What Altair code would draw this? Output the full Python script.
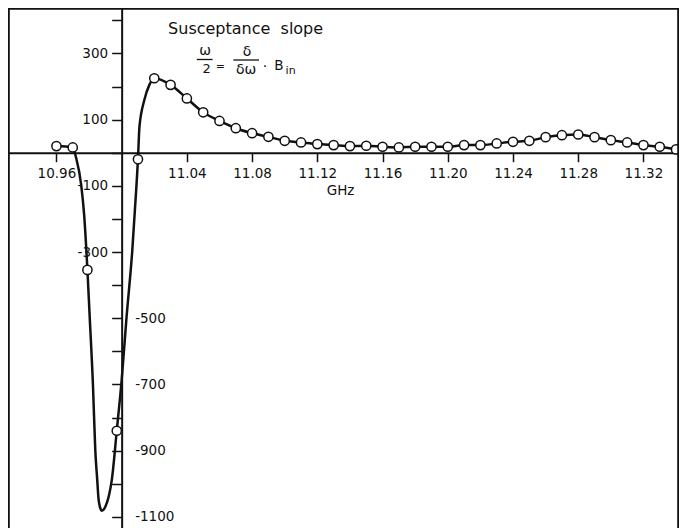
import altair as alt
import pandas as pd

# measured points (GHz, susceptance slope)
ghz = [10.96, 10.97, 10.979, 10.997, 11.01, 11.02, 11.03, 11.04, 11.05, 11.06,
       11.07, 11.08, 11.09, 11.10, 11.11, 11.12, 11.13, 11.14, 11.15, 11.16,
       11.17, 11.18, 11.19, 11.20, 11.21, 11.22, 11.23, 11.24, 11.25, 11.26,
       11.27, 11.28, 11.29, 11.30, 11.31, 11.32, 11.33, 11.34]
slope = [20, 16, -354, -840, -20, 225, 205, 164, 122, 96,
         74, 59, 48, 36, 31, 26, 23, 20, 21, 18,
         16, 18, 18, 18, 23, 23, 28, 33, 36, 47,
         53, 55, 47, 38, 31, 23, 18, 10]

# hand-drawn curve through the resonance dip
trace_ghz = [10.9721, 10.9752, 10.9770, 10.9804, 10.9824, 10.98382, 10.98503,
             10.98576, 10.98667, 10.98788, 10.98939, 10.99091, 10.99242, 10.99394,
             11.0000, 11.0030, 11.0065, 11.0091, 11.0109, 11.0139, 11.0170]
trace_val = [-16, -98, -188, -496, -702, -898, -989,
             -1043, -1070, -1082, -1075, -1058, -1031, -989,
             -687, -497, -297, -98, 77, 159, 205]

x_ticks = [10.96, 11.04, 11.08, 11.12, 11.16, 11.20, 11.24, 11.28, 11.32]
y_ticks = list(range(-1100, 401, 100))
y_left_labels = [300, 100, -100, -300]
y_right_labels = [-500, -700, -900, -1100]

x_domain = [10.9303, 11.3418]
y_domain = [-1133.8, 437.2]

W, H = 671, 520
FONT = "DejaVu Sans"
INK = "#111111"

def xpix(v):
    return (v - x_domain[0]) / (x_domain[1] - x_domain[0]) * W

def ypix(v):
    return (y_domain[1] - v) / (y_domain[1] - y_domain[0]) * H

def px2v(px):
    # reference page x -> view x (reference frame 5..684 mapped onto 0..W)
    return (px - 5) * W / 679.0

def py2v(py):
    return py - 8

pts = pd.DataFrame({"ghz": ghz, "val": slope})
curve = pd.concat([pts, pd.DataFrame({"ghz": trace_ghz, "val": trace_val})]).sort_values("ghz")

xs = alt.Scale(domain=x_domain, nice=False, zero=False)
ys = alt.Scale(domain=y_domain, nice=False, zero=False)

y_axis_x = xpix(11.0)
x_axis_y = ypix(0)

x_axis = alt.Axis(values=x_ticks, format=".2f", orient="bottom", offset=-(H - x_axis_y),
                  grid=False, tickSize=9, tickWidth=1.5, tickColor=INK,
                  domainColor=INK, domainWidth=2, labelPadding=5,
                  labelFont=FONT, labelFontSize=13.5, labelColor=INK,
                  title="GHz", titleFont=FONT, titleFontSize=13.5,
                  titleFontWeight="normal", titleColor=INK,
                  titleX=px2v(341), titleY=38, titleBaseline="middle", titleAlign="center",
                  labelOverlap=False)

left_expr = "indexof([" + ",".join(str(v) for v in y_left_labels) + "], datum.value) >= 0 ? '' + datum.value : ''"

line = alt.Chart(curve).mark_line(color=INK, strokeWidth=2.5, interpolate="monotone").encode(
    x=alt.X("ghz:Q", scale=xs, axis=x_axis),
    y=alt.Y("val:Q", scale=ys,
            axis=alt.Axis(values=y_ticks, orient="left", offset=-y_axis_x, grid=False,
                          tickSize=10, tickWidth=1.5, tickColor=INK,
                          domainColor=INK, domainWidth=2, labelPadding=4,
                          labelExpr=left_expr, labelFont=FONT, labelFontSize=13.5,
                          labelColor=INK, labelOverlap=False, title=None)),
)

points = alt.Chart(pts).mark_point(shape="circle", filled=True, fill="white", stroke=INK,
                                    strokeWidth=1.5, size=85, opacity=1).encode(
    x=alt.X("ghz:Q", scale=xs, axis=x_axis),
    y=alt.Y("val:Q", scale=ys,
            axis=alt.Axis(values=y_right_labels, orient="right", offset=-(W - y_axis_x),
                          domain=False, ticks=False, grid=False, labelPadding=13,
                          labelExpr="'' + datum.value", labelFont=FONT, labelFontSize=13.5,
                          labelColor=INK, labelOverlap=False, title=None)),
)

frame_left = alt.Chart().mark_rule(color=INK, strokeWidth=1.8).encode(
    x=alt.value(0.9), y=alt.value(0), y2=alt.value(H))
frame_right = alt.Chart().mark_rule(color=INK, strokeWidth=1.8).encode(
    x=alt.value(W - 0.9), y=alt.value(0), y2=alt.value(H))
frame_top = alt.Chart().mark_rule(color=INK, strokeWidth=1.8).encode(
    x=alt.value(0), x2=alt.value(W), y=alt.value(0.9))

def txt(s, px, py, size=13.5, align="center"):
    return alt.Chart().mark_text(text=s, font=FONT, fontSize=size, color=INK,
                                 align=align, baseline="middle").encode(
        x=alt.value(px2v(px)), y=alt.value(py2v(py)))

def bar(px1, px2, py):
    return alt.Chart().mark_rule(color=INK, strokeWidth=1.3).encode(
        x=alt.value(px2v(px1)), x2=alt.value(px2v(px2)), y=alt.value(py2v(py)))

annot = [
    txt("Susceptance\u00a0 slope", 167, 29, size=16, align="left"),
    txt("ω", 204.5, 51, size=14), bar(196, 212, 59.5), txt("2", 206, 69, size=13),
    txt("=", 220, 67, size=11),
    txt("δ", 247, 52, size=14), bar(233, 259, 60), txt("δω", 246, 70, size=14),
    txt("·", 265, 67, size=14),
    txt("B", 279, 66, size=13.5), txt("in", 291, 71, size=11),
]

chart = alt.layer(
    line, points, frame_left, frame_right, frame_top, *annot
).resolve_axis(y="independent").properties(
    width=W, height=H,
    autosize=alt.AutoSizeParams(type="none"),
    padding=0,
).configure_view(stroke=None)

chart.save("out.html", embed_options={"renderer": "svg", "actions": False})
